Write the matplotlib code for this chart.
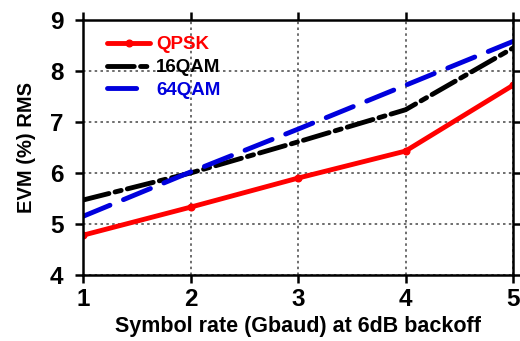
import matplotlib
matplotlib.use("Agg")
import matplotlib.pyplot as plt

rate = [1, 2, 3, 4, 5]
qpsk = [4.78, 5.33, 5.90, 6.43, 7.72]
qam16 = [5.47, 6.00, 6.61, 7.24, 8.45]
qam64 = [5.15, 6.02, 6.86, 7.72, 8.58]

plt.rcParams['font.family'] = ['Liberation Sans', 'DejaVu Sans']
plt.rcParams['font.weight'] = 'bold'

fig = plt.figure(figsize=(5.2, 3.41), dpi=100)
ax = fig.add_axes([83 / 520, 1 - 275 / 341, 430 / 520, 255 / 341])

ax.plot(rate, qpsk, color='#ff0000', lw=3.5, marker='o', ms=4.8, label='QPSK',
        solid_capstyle='round')
ax.plot(rate, qam16, color='black', lw=3.5, dashes=(5.5, 1.3, 1.3, 1.3), label='16QAM',
        dash_capstyle='round')
ax.plot(rate, qam64, color='#0000dd', lw=3.5, dashes=(6, 3), label='64QAM',
        dash_capstyle='round')

ax.set_xlim(1, 5)
ax.set_ylim(4, 9)
ax.set_xticks(rate)
ax.set_yticks([4, 5, 6, 7, 8, 9])
ax.grid(True, ls=(0, (1.5, 2)), color='#555555', lw=1.2)
for s in ax.spines.values():
    s.set_linewidth(1.8)
ax.tick_params(direction='out', length=6, width=1.8, labelsize=17.5,
               top=True, right=True)
ax.tick_params(axis='x', pad=3)
ax.tick_params(axis='y', pad=8)
for t in ax.get_xticklabels() + ax.get_yticklabels():
    t.set_fontweight('bold')

ax.set_xlabel('Symbol rate (Gbaud) at 6dB backoff', fontsize=15.5, fontweight='bold', labelpad=4)
ax.set_ylabel('EVM (%) RMS', fontsize=14.5, fontweight='bold', labelpad=10)

leg = ax.legend(loc='upper left', frameon=False, fontsize=13.5, handlelength=2.3,
                handletextpad=0.3, labelspacing=0.3, borderaxespad=0.2,
                bbox_to_anchor=(0.03, 0.98))
for txt, line in zip(leg.get_texts(), leg.get_lines()):
    txt.set_color(line.get_color())
    txt.set_fontweight('bold')

fig.savefig('out.png', dpi=100)
